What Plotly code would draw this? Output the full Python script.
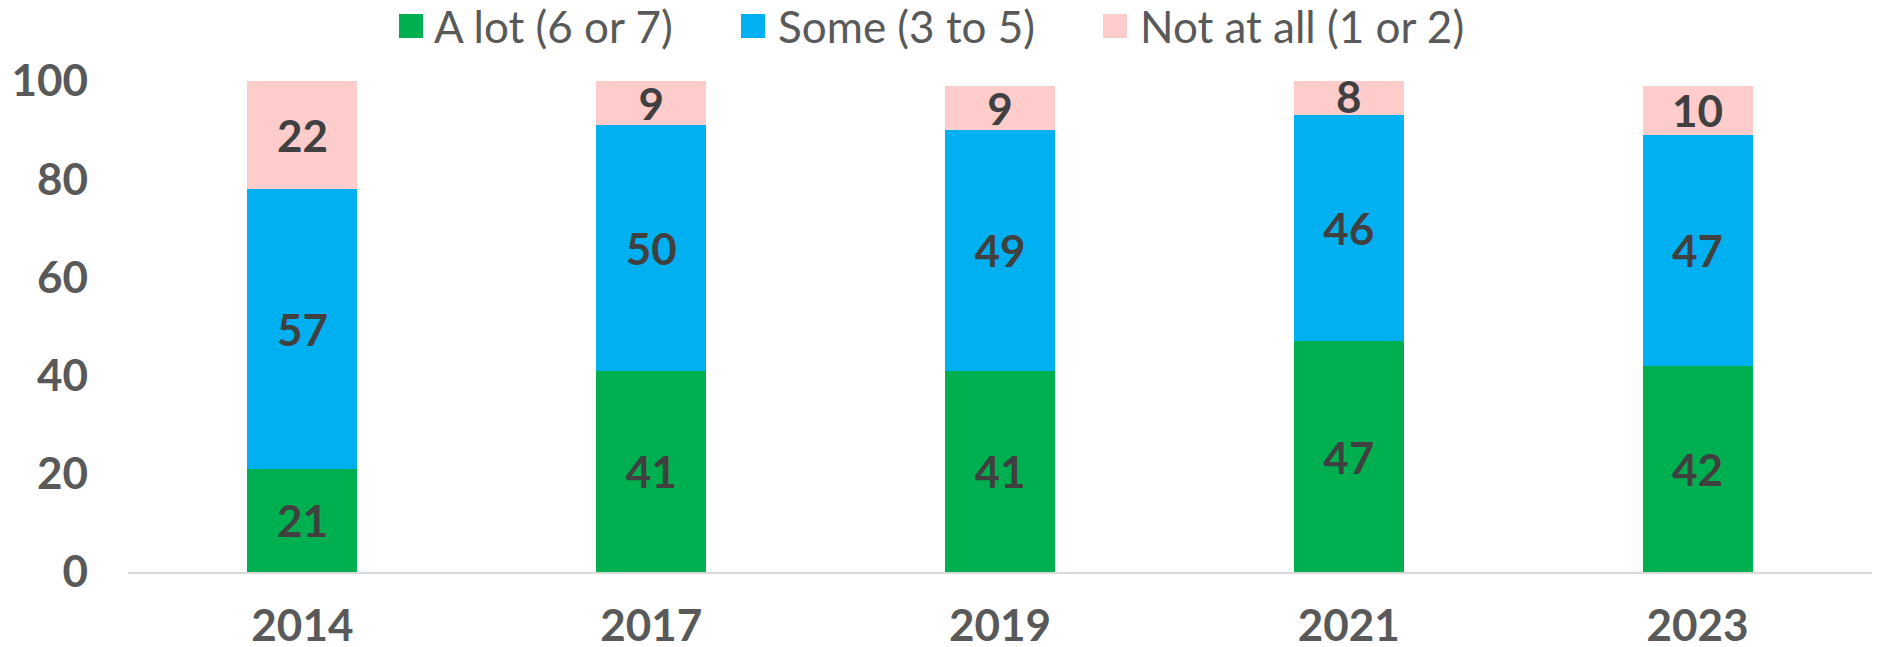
import plotly.graph_objects as go

years = ["2014", "2017", "2019", "2021", "2023"]
a_lot = [21, 41, 41, 47, 42]
some = [57, 50, 49, 46, 47]
not_at_all = [22, 9, 9, 8, 10]

names = ["A lot (6 or 7)", "Some (3 to 5)", "Not at all (1 or 2)"]
colors = ["#00B050", "#00B0F0", "#FFCCCC"]
values = [a_lot, some, not_at_all]

# page body has an 8px margin; size the figure so that it fills the window
OFF = 8
W, H = 1883 - OFF, 647 - OFF
L, R, T, B = 128 - OFF, 11, 81 - OFF, 75
pw, ph = W - L - R, H - T - B

fig = go.Figure()
for name, vals, color in zip(names, values, colors):
    fig.add_trace(go.Bar(
        x=years, y=vals, name=name,
        marker=dict(color=color, line=dict(width=0)),
        text=[str(v) for v in vals],
        textposition="inside",
        insidetextanchor="middle",
        constraintext="none",
        textangle=0,
        textfont=dict(family="Lato", size=44, color="#404040", weight="bold"),
        cliponaxis=True,
        hoverinfo="skip",
        showlegend=False,
    ))

# legend drawn as squares + text (screen pixel positions converted to paper coords)
legend_marker_px = [399, 741, 1103]
legend_text_px = [432, 776, 1138]
legend_cy = 26
msize = 24
shapes, annotations = [], []
for name, color, mx, tx in zip(names, colors, legend_marker_px, legend_text_px):
    mx -= OFF
    tx -= OFF
    cy = legend_cy - OFF
    shapes.append(dict(
        type="rect", xref="paper", yref="paper",
        x0=(mx - L) / pw, x1=(mx + msize - L) / pw,
        y0=(H - B - (cy + msize / 2)) / ph, y1=(H - B - (cy - msize / 2)) / ph,
        fillcolor=color, line=dict(width=0),
    ))
    annotations.append(dict(
        xref="paper", yref="paper",
        x=(tx - L) / pw, y=(H - B - cy) / ph,
        xanchor="left", yanchor="middle", showarrow=False,
        text=name, font=dict(family="Lato", size=44, color="#595959"),
    ))

fig.update_layout(
    barmode="stack",
    bargap=0.685,
    width=W, height=H,
    margin=dict(l=L, r=R, t=T, b=B, autoexpand=False),
    plot_bgcolor="white",
    paper_bgcolor="white",
    uniformtext=dict(minsize=44, mode="show"),
    font=dict(family="Lato", color="#595959"),
    showlegend=False,
    shapes=shapes,
    annotations=annotations,
)
fig.update_xaxes(
    showgrid=False, showline=True, linecolor="#D9D9D9", linewidth=2,
    ticks="", ticklabelstandoff=14, automargin=False,
    tickfont=dict(family="Lato", size=44, color="#595959", weight="bold"),
)
fig.update_yaxes(
    range=[0, 100], tickvals=[0, 20, 40, 60, 80, 100],
    showgrid=False, zeroline=False, showline=False, ticks="",
    ticklabelstandoff=39, automargin=False,
    tickfont=dict(family="Lato", size=44, color="#595959", weight="bold"),
)

fig.write_html("out.html")
